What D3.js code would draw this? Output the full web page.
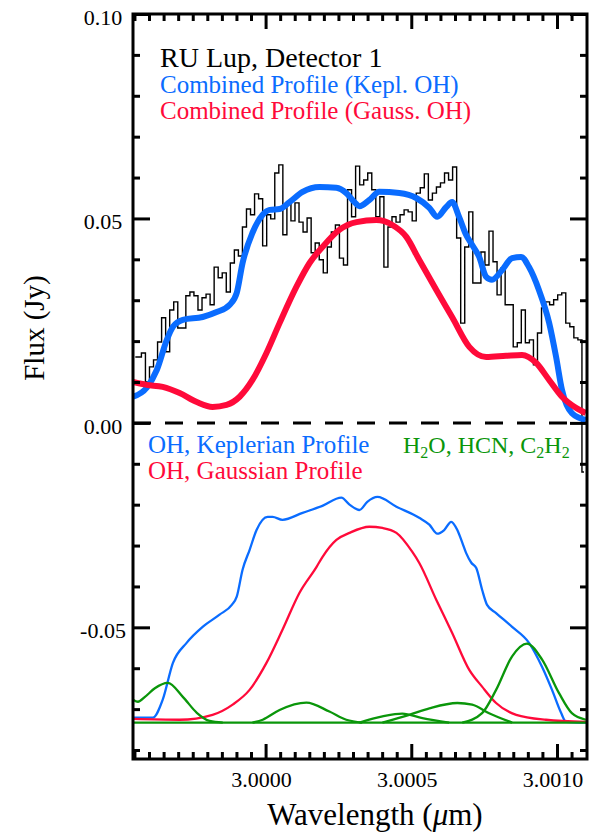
<!DOCTYPE html>
<html>
<head>
<meta charset="utf-8">
<script src="https://cdn.jsdelivr.net/npm/d3@7/dist/d3.min.js"></script>
<style>
  html, body { margin: 0; padding: 0; background: #fff; }
  svg { display: block; }
  text { font-family: "Liberation Serif", "Times New Roman", serif; }
</style>
</head>
<body>
<svg id="chart" width="590" height="836"></svg>
<script>
// ---------------- DATA ----------------
// Observed spectrum (histogram), bin centres on a regular wavelength grid
const obsWlStart = 2.999553;
const obsWlStep = 0.00001387;
const obsFlux = [
  0.0161, 0.0161, 0.0171, 0.0100, 0.0137, 0.0154, 0.0198, 0.0257, 0.0174, 0.0276,
  0.0296, 0.0232, 0.0232, 0.0311, 0.0320, 0.0311, 0.0276, 0.0306, 0.0315, 0.0289,
  0.0381, 0.0355, 0.0367, 0.0320, 0.0391, 0.0423, 0.0408, 0.0479, 0.0523, 0.0509,
  0.0560, 0.0548, 0.0433, 0.0509, 0.0499, 0.0611, 0.0631, 0.0460, 0.0538, 0.0494,
  0.0538, 0.0491, 0.0467, 0.0501, 0.0416, 0.0440, 0.0399, 0.0367, 0.0430, 0.0467,
  0.0484, 0.0403, 0.0386, 0.0570, 0.0504, 0.0628, 0.0582, 0.0594, 0.0611, 0.0570,
  0.0504, 0.0553, 0.0381, 0.0479, 0.0504, 0.0491, 0.0509, 0.0521, 0.0516, 0.0494,
  0.0562, 0.0575, 0.0609, 0.0545, 0.0562, 0.0577, 0.0587, 0.0611, 0.0594, 0.0626,
  0.0452, 0.0244, 0.0430, 0.0516, 0.0342, 0.0342, 0.0418, 0.0386, 0.0469, 0.0394,
  0.0313, 0.0379, 0.0289, 0.0289, 0.0186, 0.0196, 0.0276, 0.0196, 0.0203, 0.0142,
  0.0220, 0.0281, 0.0296, 0.0289, 0.0301, 0.0313, 0.0318, 0.0244, 0.0235, 0.0208,
  0.0203, -0.0120
];

// Combined profile, Keplerian OH (thick blue)
const keplCombWl = [2.999545, 2.999592, 2.999627, 2.999661, 2.999682, 2.999716, 2.999784, 2.999832,
  2.999877, 2.999901, 2.999921, 2.999955, 2.999990, 3.000014, 3.000048, 3.000082, 3.000127, 3.000185,
  3.000243, 3.000277, 3.000305, 3.000322, 3.000356, 3.000390, 3.000459, 3.000517, 3.000562, 3.000589, 3.000620,
  3.000640, 3.000664, 3.000688, 3.000709, 3.000733, 3.000757, 3.000777, 3.000812, 3.000846, 3.000877,
  3.000904, 3.000938, 3.000973, 3.000997, 3.001017, 3.001051, 3.001099];
const keplCombFlux = [0.0064, 0.0086, 0.0130, 0.0203, 0.0235, 0.0252, 0.0259, 0.0271,
  0.0289, 0.0318, 0.0391, 0.0465, 0.0509, 0.0521, 0.0523, 0.0540, 0.0565, 0.0577,
  0.0575, 0.0562, 0.0540, 0.0530, 0.0545, 0.0565, 0.0562, 0.0550, 0.0526, 0.0504, 0.0528,
  0.0540, 0.0504, 0.0460, 0.0435, 0.0406, 0.0357, 0.0350, 0.0374, 0.0403, 0.0406,
  0.0381, 0.0325, 0.0245, 0.0161, 0.0081, 0.0024, 0.0007];

// Combined profile, Gaussian OH (thick red)
const gaussCombWl = [2.999545, 2.999592, 2.999647, 2.999705, 2.999764, 2.999818, 2.999866, 2.999911,
  2.999955, 3.000003, 3.000048, 3.000106, 3.000151, 3.000195, 3.000253, 3.000312, 3.000380, 3.000435,
  3.000483, 3.000527, 3.000586, 3.000640, 3.000699, 3.000757, 3.000825, 3.000880, 3.000928, 3.000973,
  3.001017, 3.001065, 3.001099];
const gaussCombFlux = [0.0100, 0.0093, 0.0088, 0.0073, 0.0051, 0.0039, 0.0044, 0.0064,
  0.0105, 0.0171, 0.0244, 0.0333, 0.0391, 0.0430, 0.0472, 0.0491, 0.0496, 0.0484,
  0.0455, 0.0399, 0.0325, 0.0259, 0.0186, 0.0161, 0.0164, 0.0166, 0.0147, 0.0105,
  0.0064, 0.0037, 0.0024];

// OH, Keplerian profile (thin blue, offset)
const ohKeplWl = [2.999545, 2.999613, 2.999647, 2.999682, 2.999729, 2.999784, 2.999842, 2.999884,
  2.999901, 2.999921, 2.999945, 2.999969, 3.000007, 3.000024, 3.000058, 3.000127, 3.000195, 3.000260,
  3.000288, 3.000322, 3.000349, 3.000384, 3.000449, 3.000527, 3.000562, 3.000589, 3.000613, 3.000637,
  3.000658, 3.000675, 3.000688, 3.000706, 3.000723, 3.000743, 3.000760, 3.000791, 3.000846, 3.000904,
  3.000949, 3.000983, 3.001014, 3.001031, 3.001099];
const ohKeplFlux = [-0.0721, -0.0721, -0.0677, -0.0587, -0.0538, -0.0499, -0.0469, -0.0445,
  -0.0425, -0.0359, -0.0311, -0.0262, -0.0230, -0.0230, -0.0237, -0.0220, -0.0203, -0.0183,
  -0.0200, -0.0213, -0.0193, -0.0181, -0.0205, -0.0232, -0.0249, -0.0271, -0.0262, -0.0242,
  -0.0262, -0.0293, -0.0318, -0.0342, -0.0355, -0.0408, -0.0445, -0.0465, -0.0499, -0.0538,
  -0.0597, -0.0653, -0.0709, -0.0731, -0.0733];

// OH, Gaussian profile (thin red, offset)
const ohGaussWl = [2.999545, 2.999705, 2.999818, 2.999887, 2.999945, 3.000003, 3.000058, 3.000116,
  3.000175, 3.000195, 3.000243, 3.000288, 3.000356, 3.000401, 3.000449, 3.000503, 3.000527, 3.000586,
  3.000640, 3.000699, 3.000743, 3.000791, 3.000860, 3.000962, 3.001099];
const ohGaussFlux = [-0.0724, -0.0726, -0.0714, -0.0689, -0.0653, -0.0587, -0.0506, -0.0416,
  -0.0352, -0.0328, -0.0286, -0.0269, -0.0254, -0.0257, -0.0269, -0.0315, -0.0342, -0.0433,
  -0.0513, -0.0604, -0.0645, -0.0685, -0.0714, -0.0726, -0.0731];

// H2O, HCN, C2H2 components (thin green, offset)
const molBaseline = -0.0733;
const mol1Wl = [2.999545, 2.999562, 2.999586, 2.999620, 2.999664, 2.999716, 2.999764, 2.999808, 2.999853];
const mol1Flux = [-0.0677, -0.0682, -0.0670, -0.0649, -0.0636, -0.0670, -0.0709, -0.0729, -0.0733];
const mol2Wl = [2.999955, 2.999990, 3.000048, 3.000140, 3.000219, 3.000277, 3.000332];
const mol2Flux = [-0.0733, -0.0726, -0.0702, -0.0684, -0.0706, -0.0726, -0.0733];
const mol3Wl = [3.000322, 3.000401, 3.000469, 3.000538, 3.000630];
const mol3Flux = [-0.0733, -0.0718, -0.0711, -0.0722, -0.0733];
const mol4Wl = [3.000401, 3.000493, 3.000562, 3.000658, 3.000709, 3.000767, 3.000846];
const mol4Flux = [-0.0733, -0.0714, -0.0698, -0.0685, -0.0689, -0.0710, -0.0733];
const mol5Wl = [3.000675, 3.000743, 3.000791, 3.000846, 3.000897, 3.000949, 3.001007, 3.001051, 3.001099];
const mol5Flux = [-0.0733, -0.0710, -0.0653, -0.0571, -0.0540, -0.0579, -0.0661, -0.0710, -0.0726];

// Axes
const xDomain = [2.999545, 3.001103];
const yDomain = [-0.0822, 0.10];
const xMajorTicks = [3.0000, 3.0005, 3.0010];
const xTickLabels = ["3.0000", "3.0005", "3.0010"];
const yMajorTicks = [-0.05, 0.00, 0.05, 0.10];
const yTickLabels = ["-0.05", "0.00", "0.05", "0.10"];

// ---------------- DRAW ----------------
const svg = d3.select("#chart");
const L = 133, R = 587, T = 14, B = 759;
const x = d3.scaleLinear().domain(xDomain).range([L, R]);
const y = d3.scaleLinear().domain(yDomain).range([B, T]);

const BLUE = "#0a6cff", RED = "#ff0a3a", GREEN = "#0a960a";

svg.append("defs").append("clipPath").attr("id", "clip")
  .append("rect").attr("x", L).attr("y", T).attr("width", R - L).attr("height", B - T);

const plot = svg.append("g").attr("clip-path", "url(#clip)");

const zip = (a, b) => a.map((v, i) => [v, b[i]]);
const smooth = d3.line().x(d => x(d[0])).y(d => y(d[1])).curve(d3.curveMonotoneX);

// zero line
plot.append("line").attr("x1", L).attr("x2", R).attr("y1", y(0)).attr("y2", y(0))
  .attr("stroke", "#000").attr("stroke-width", 3).attr("stroke-dasharray", "18,14");

// histogram
const obs = obsFlux.map((f, i) => [obsWlStart + i * obsWlStep, f]);
plot.append("path").datum(obs)
  .attr("d", d3.line().x(d => x(d[0])).y(d => y(d[1])).curve(d3.curveStep))
  .attr("fill", "none").attr("stroke", "#000").attr("stroke-width", 1.4);

// thick combined profiles
plot.append("path").datum(zip(keplCombWl, keplCombFlux)).attr("d", smooth)
  .attr("fill", "none").attr("stroke", BLUE).attr("stroke-width", 6).attr("stroke-linejoin", "round");
plot.append("path").datum(zip(gaussCombWl, gaussCombFlux)).attr("d", smooth)
  .attr("fill", "none").attr("stroke", RED).attr("stroke-width", 6).attr("stroke-linejoin", "round");

// thin components
plot.append("path").datum(zip(ohKeplWl, ohKeplFlux)).attr("d", smooth)
  .attr("fill", "none").attr("stroke", BLUE).attr("stroke-width", 2.3);
plot.append("path").datum(zip(ohGaussWl, ohGaussFlux)).attr("d", smooth)
  .attr("fill", "none").attr("stroke", RED).attr("stroke-width", 2.3);
plot.append("path").datum([[xDomain[0], molBaseline], [xDomain[1], molBaseline]]).attr("d", smooth)
  .attr("fill", "none").attr("stroke", GREEN).attr("stroke-width", 2.3);
[[mol1Wl, mol1Flux], [mol2Wl, mol2Flux], [mol3Wl, mol3Flux], [mol4Wl, mol4Flux], [mol5Wl, mol5Flux]]
  .forEach(([w, f]) => {
    plot.append("path").datum(zip(w, f)).attr("d", smooth)
      .attr("fill", "none").attr("stroke", GREEN).attr("stroke-width", 2.3);
  });

// axes (ticks on all four sides, pointing inwards)
const yMinor = d3.range(-0.08, 0.1001, 0.01).map(v => +v.toFixed(2)).filter(v => yMajorTicks.indexOf(v) < 0);
const xMinor = d3.range(2.99955, 3.00110, 0.00005).map(v => +v.toFixed(5)).filter(v => xMajorTicks.indexOf(v) < 0);

function drawAxis(axisGen, transform) {
  const g = svg.append("g").attr("transform", transform).call(axisGen);
  g.select(".domain").remove();
  g.selectAll(".tick line").attr("stroke", "#000").attr("stroke-width", 3);
  g.selectAll(".tick text").remove();
}
drawAxis(d3.axisLeft(y).tickValues(yMajorTicks).tickSize(-17).tickFormat(""), `translate(${L},0)`);
drawAxis(d3.axisLeft(y).tickValues(yMinor).tickSize(-7).tickFormat(""), `translate(${L},0)`);
drawAxis(d3.axisRight(y).tickValues(yMajorTicks).tickSize(-17).tickFormat(""), `translate(${R},0)`);
drawAxis(d3.axisRight(y).tickValues(yMinor).tickSize(-7).tickFormat(""), `translate(${R},0)`);
drawAxis(d3.axisBottom(x).tickValues(xMajorTicks).tickSize(-15).tickFormat(""), `translate(0,${B})`);
drawAxis(d3.axisBottom(x).tickValues(xMinor).tickSize(-7).tickFormat(""), `translate(0,${B})`);
drawAxis(d3.axisTop(x).tickValues(xMajorTicks).tickSize(-15).tickFormat(""), `translate(0,${T})`);
drawAxis(d3.axisTop(x).tickValues(xMinor).tickSize(-7).tickFormat(""), `translate(0,${T})`);

// frame
svg.append("rect").attr("x", L).attr("y", T).attr("width", R - L).attr("height", B - T)
  .attr("fill", "none").attr("stroke", "#000").attr("stroke-width", 3);

// tick labels
yMajorTicks.forEach((v, i) => {
  svg.append("text").attr("x", 103).attr("y", y(v) + 11).attr("text-anchor", "middle")
    .attr("font-size", 22).attr("fill", "#000").text(yTickLabels[i]);
});
xMajorTicks.forEach((v, i) => {
  svg.append("text").attr("x", x(v) - 4).attr("y", 787).attr("text-anchor", "middle")
    .attr("font-size", 22).attr("fill", "#000").text(xTickLabels[i]);
});

// axis titles
const xt = svg.append("text").attr("x", 375).attr("y", 825).attr("text-anchor", "middle")
  .attr("font-size", 31).attr("fill", "#000");
xt.append("tspan").text("Wavelength (");
xt.append("tspan").attr("font-style", "italic").text("μ");
xt.append("tspan").text("m)");
svg.append("text").attr("transform", "translate(44,328) rotate(-90)").attr("text-anchor", "middle")
  .attr("font-size", 29).attr("fill", "#000").text("Flux (Jy)");

// legends
svg.append("text").attr("x", 160).attr("y", 67).attr("font-size", 28).attr("fill", "#000").text("RU Lup, Detector 1");
svg.append("text").attr("x", 160).attr("y", 93).attr("font-size", 25).attr("fill", BLUE).text("Combined Profile (Kepl. OH)");
svg.append("text").attr("x", 160).attr("y", 119).attr("font-size", 25).attr("fill", RED).text("Combined Profile (Gauss. OH)");
svg.append("text").attr("x", 148).attr("y", 453).attr("font-size", 25).attr("fill", BLUE).text("OH, Keplerian Profile");
svg.append("text").attr("x", 148).attr("y", 479).attr("font-size", 25).attr("fill", RED).text("OH, Gaussian Profile");
const mol = svg.append("text").attr("x", 403).attr("y", 453).attr("font-size", 24).attr("fill", GREEN);
mol.append("tspan").text("H");
mol.append("tspan").attr("font-size", 16).attr("dy", 5).text("2");
mol.append("tspan").attr("dy", -5).text("O, HCN, C");
mol.append("tspan").attr("font-size", 16).attr("dy", 5).text("2");
mol.append("tspan").attr("dy", -5).text("H");
mol.append("tspan").attr("font-size", 16).attr("dy", 5).text("2");
</script>
</body>
</html>
